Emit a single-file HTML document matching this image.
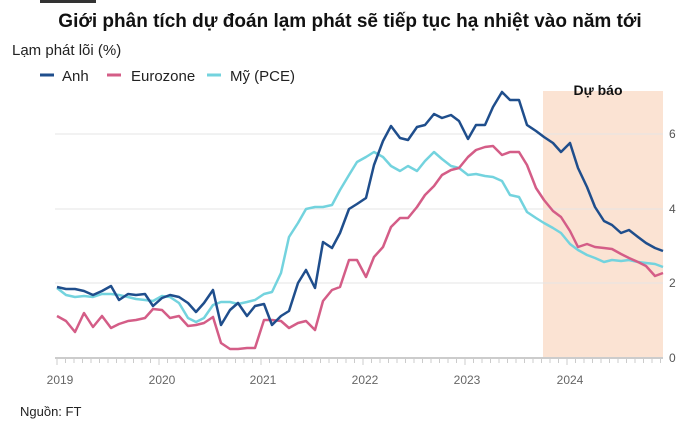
<!DOCTYPE html><html><head><meta charset="utf-8"><style>
body{margin:0;background:#fff;width:700px;height:429px;overflow:hidden;font-family:"Liberation Sans",sans-serif}
</style></head><body>
<svg width="700" height="429" xmlns="http://www.w3.org/2000/svg" font-family="Liberation Sans, sans-serif">
<rect x="40" y="0" width="56" height="3" fill="#333"/>
<text x="350" y="27" text-anchor="middle" font-size="19" font-weight="bold" fill="#111">Giới phân tích dự đoán lạm phát sẽ tiếp tục hạ nhiệt vào năm tới</text>
<text x="12" y="55" font-size="15" fill="#222">Lạm phát lõi (%)</text>
<line x1="40" y1="75" x2="54" y2="75" stroke="#1f4e8c" stroke-width="3"/><text x="62" y="81" font-size="15" fill="#222">Anh</text>
<line x1="107" y1="75" x2="121" y2="75" stroke="#d45d87" stroke-width="3"/><text x="131" y="81" font-size="15" fill="#222">Eurozone</text>
<line x1="207" y1="75" x2="221" y2="75" stroke="#73d3de" stroke-width="3"/><text x="230" y="81" font-size="15" fill="#222">Mỹ (PCE)</text>
<rect x="543" y="91" width="120" height="267" fill="#fbe3d3"/>
<text x="598" y="95" text-anchor="middle" font-size="14" font-weight="bold" fill="#111" dy="0">Dự báo</text>
<g stroke="#e6e6e6" stroke-width="1"><line x1="55" y1="283" x2="663" y2="283"/><line x1="55" y1="209" x2="663" y2="209"/><line x1="55" y1="134" x2="663" y2="134"/></g>
<line x1="55" y1="358" x2="663" y2="358" stroke="#ccc" stroke-width="2"/>
<g stroke="#ccc" stroke-width="1" id="t"></g>
<g font-size="12" fill="#555"><text x="669" y="362">0</text><text x="669" y="287">2</text><text x="669" y="213">4</text><text x="669" y="138">6</text></g>
<g font-size="12" fill="#666" text-anchor="middle"><text x="60" y="384">2019</text><text x="162" y="384">2020</text><text x="263" y="384">2021</text><text x="365" y="384">2022</text><text x="467" y="384">2023</text><text x="570" y="384">2024</text></g>
<text x="20" y="416" font-size="13" fill="#222">Nguồn: FT</text>
<g fill="none" stroke-width="2.5" stroke-linejoin="round">
<polyline stroke="#73d3de" points="57,288 66,295 75,297 84,296 93,297 102,294 111,294 119,295 128,297 136,299 145,300 153,301 162,296 170,297 179,303 188,318 196,322 204,318 213,305 221,302 230,302 238,304 247,302 255,300 264,294 272,292 281,273 289,237 298,223 306,209 315,207 323,207 332,205 340,190 349,175 357,162 366,157 374,152 383,157 391,166 400,171 408,166 417,171 425,161 434,152 442,159 451,166 459,168 468,175 476,174 485,176 493,177 502,181 510,195 519,197 527,212 536,218 544,223 553,228 561,233 570,244 578,250 587,255 595,258 604,262 612,260 621,261 629,260 638,262 646,263 655,264 663,267"/>
<polyline stroke="#d45d87" points="57,316 66,321 75,332 84,313 93,327 102,316 111,328 119,324 128,321 136,320 145,318 153,309 162,310 170,318 179,316 188,326 196,325 204,323 213,317 221,343 230,349 238,349 247,348 255,348 264,320 272,320 281,321 289,328 298,323 306,321 315,330 323,301 332,290 340,287 349,260 357,260 366,277 374,257 383,247 391,227 400,218 408,218 417,207 425,195 434,186 442,175 451,170 459,168 468,157 476,150 485,147 493,146 502,155 510,152 519,152 527,165 536,188 544,200 553,211 561,217 570,231 578,247 587,244 595,247 604,248 612,249 621,254 629,258 638,262 646,266 655,276 663,273"/>
<polyline stroke="#1f4e8c" points="57,287 66,289 75,289 84,291 93,295 102,291 111,286 119,300 128,294 136,295 145,294 153,306 162,298 170,295 179,297 188,303 196,312 204,303 213,290 221,325 230,310 238,303 247,316 255,306 264,304 272,325 281,316 289,311 298,283 306,270 315,288 323,242 332,248 340,233 349,209 357,204 366,198 374,165 383,141 391,126 400,138 408,140 417,127 425,125 434,114 442,118 451,115 459,121 468,139 476,125 485,125 493,107 502,92 510,100 519,100 527,125 536,131 544,137 553,143 561,152 570,143 578,168 587,187 595,207 604,221 612,225 621,233 629,230 638,237 646,243 655,248 663,251"/>
</g>
<path stroke="#ccc" stroke-width="1" d="M57 359v6M65.5 359v4M74 359v4M82.5 359v4M91 359v4M99.5 359v4M108 359v4M116.5 359v4M125 359v4M133.5 359v4M142 359v4M150.5 359v4M159 359v6M167.5 359v4M176 359v4M184.5 359v4M193 359v4M201.5 359v4M210 359v4M218.5 359v4M227 359v4M235.5 359v4M244 359v4M252.5 359v4M261 359v6M269.5 359v4M278 359v4M286.5 359v4M295 359v4M303.5 359v4M312 359v4M320.5 359v4M329 359v4M337.5 359v4M346 359v4M354.5 359v4M363 359v6M371.5 359v4M380 359v4M388.5 359v4M397 359v4M405.5 359v4M414 359v4M422.5 359v4M431 359v4M439.5 359v4M448 359v4M456.5 359v4M465 359v6M473.5 359v4M482 359v4M490.5 359v4M499 359v4M507.5 359v4M516 359v4M524.5 359v4M533 359v4M541.5 359v4M550 359v4M558.5 359v4M567 359v6M575.5 359v4M584 359v4M592.5 359v4M601 359v4M609.5 359v4M618 359v4M626.5 359v4M635 359v4M643.5 359v4M652 359v4M660.5 359v4"/>
</svg>
</body></html>
